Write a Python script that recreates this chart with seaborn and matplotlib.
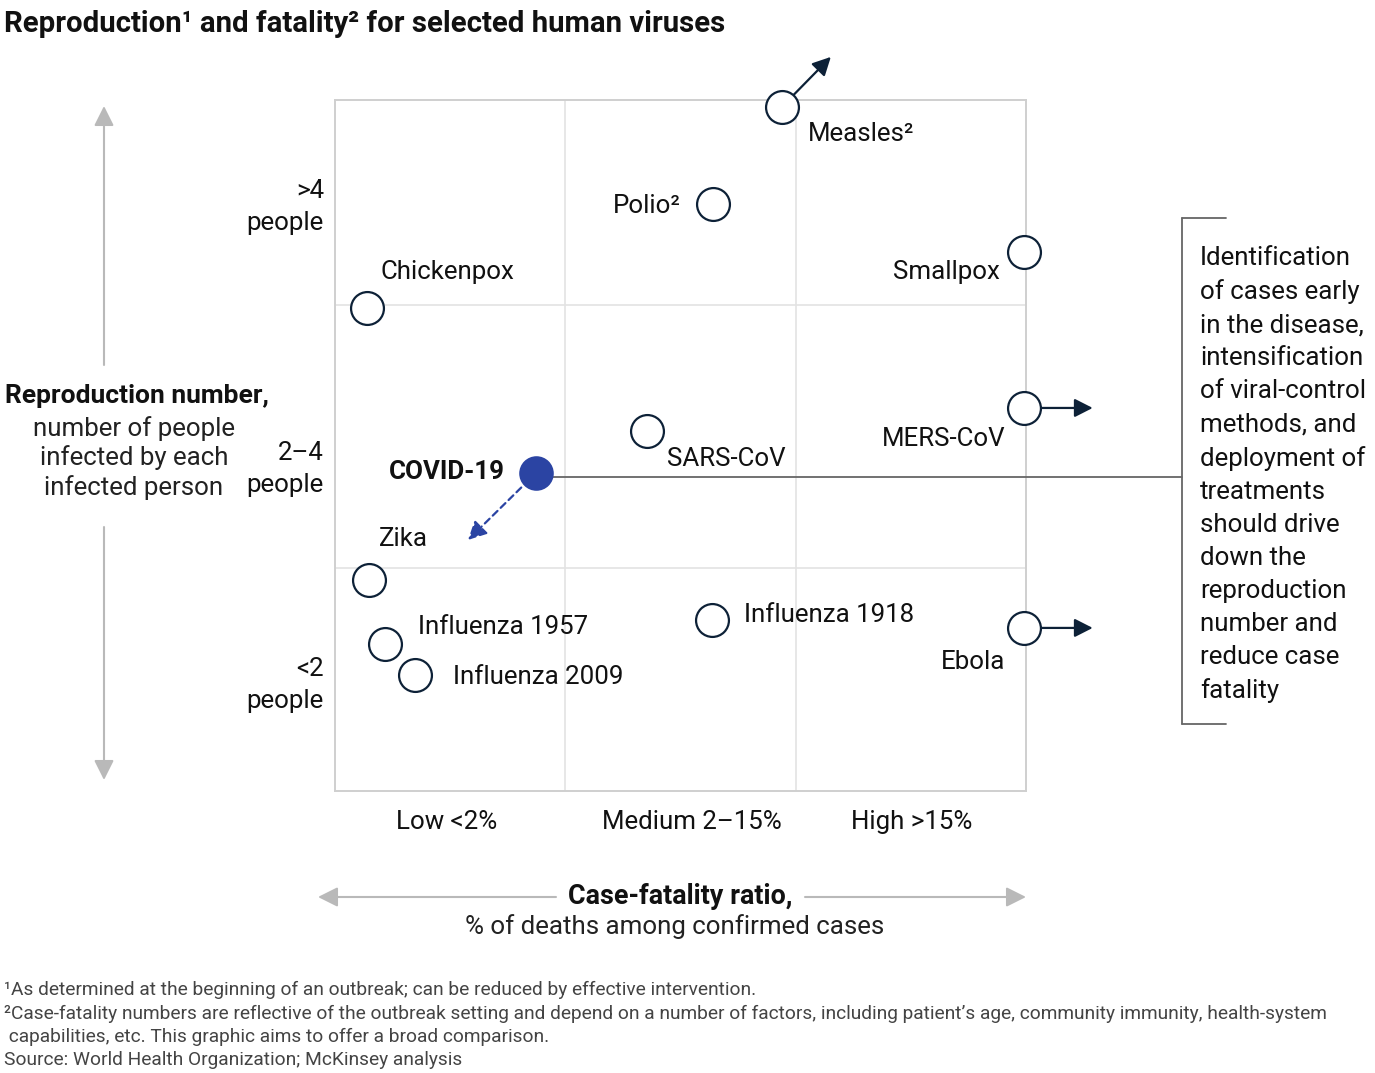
import matplotlib
matplotlib.use("Agg")
import matplotlib.pyplot as plt
import matplotlib.transforms as mtransforms
from matplotlib.lines import Line2D
import seaborn as sns
import pandas as pd

# ---------------- data ----------------
viruses = ["Measles²", "Polio²", "Smallpox", "Chickenpox", "MERS-CoV", "SARS-CoV",
           "COVID-19", "Zika", "Influenza 1957", "Influenza 2009", "Influenza 1918", "Ebola"]
# case-fatality position (0-1 low, 1-2 medium, 2-3 high)
fatality = [1.94, 1.64, 2.99, 0.14, 2.99, 1.355, 0.873, 0.148, 0.217, 0.347, 1.637, 2.99]
# reproduction position (0-0.97 <2, 0.97-2.11 2-4, >2.11 >4)
reproduction = [2.97, 2.548, 2.34, 2.097, 1.663, 1.563, 1.381, 0.916, 0.638, 0.504, 0.742, 0.708]
x_tick_labels = ["Low <2%", "Medium 2–15%", "High >15%"]
y_tick_labels = [">4\npeople", "2–4\npeople", "<2\npeople"]
x_bounds = [1.0, 2.0]
y_bounds = [0.968, 2.11]

# label styles: (dx px, dy px (up), ha)
label_style = {
    "Measles²": (26, -27, "left"),
    "Polio²": (-32, -2, "right"),
    "Smallpox": (-24, -20, "right"),
    "Chickenpox": (13, 36, "left"),
    "MERS-CoV": (-18, -31, "right"),
    "SARS-CoV": (20, -28, "left"),
    "COVID-19": (-31, 1, "right"),
    "Zika": (10, 41, "left"),
    "Influenza 1957": (33, 17, "left"),
    "Influenza 2009": (38, -2, "left"),
    "Influenza 1918": (32, 5, "left"),
    "Ebola": (-18, -34, "right"),
}
# outward arrows: (dx px, dy px up, dashed)
arrow_style = {
    "Measles²": (49, 50, False),
    "MERS-CoV": (69, 0, False),
    "Ebola": (69, 0, False),
    "COVID-19": (-68, -67, True),
}

df = pd.DataFrame({"virus": viruses, "fatality": fatality, "reproduction": reproduction})
df["kind"] = ["covid" if v == "COVID-19" else "other" for v in viruses]

sns.set_theme(style="white")
plt.rcParams["font.family"] = ["Roboto", "DejaVu Sans"]

W, H = 1375, 1073
fig = plt.figure(figsize=(W / 100, H / 100), dpi=100)
ax = fig.add_axes([335 / W, 1 - 791 / H, 691 / W, 691 / H])

NAVY = "#0d2137"
BLUE = "#2b44a3"
GRID = "#e3e3e3"
SPINE = "#cfcfcf"
FS = 18.6

# grid
for xb in x_bounds:
    ax.axvline(xb, color=GRID, lw=1.2, zorder=0)
for yb in y_bounds:
    ax.axhline(yb, color=GRID, lw=1.2, zorder=0)

others = df[df.kind == "other"]
covid = df[df.kind == "covid"]
sns.scatterplot(data=others, x="fatality", y="reproduction", ax=ax, s=560,
                facecolor="white", edgecolor=NAVY, linewidth=1.6, clip_on=False, zorder=5,
                legend=False)
sns.scatterplot(data=covid, x="fatality", y="reproduction", ax=ax, s=620,
                color=BLUE, edgecolor=BLUE, linewidth=0, clip_on=False, zorder=6, legend=False)

ax.set_xlim(0, 3)
ax.set_ylim(0, 3)
ax.set_xticks([])
ax.set_yticks([])
ax.set_xlabel("")
ax.set_ylabel("")
for sp in ax.spines.values():
    sp.set_color(SPINE)
    sp.set_linewidth(1.4)

# labels
for v, x, y in zip(viruses, fatality, reproduction):
    dx, dy, ha = label_style[v]
    bold = v == "COVID-19"
    ax.annotate(v, (x, y), xytext=(dx, dy), textcoords="offset pixels",
                ha=ha, va="center", fontsize=FS, color="#111111",
                fontweight="bold" if bold else "normal", zorder=7, annotation_clip=False)

# arrows
for v, (dx, dy, dashed) in arrow_style.items():
    i = viruses.index(v)
    x, y = fatality[i], reproduction[i]
    tr = mtransforms.offset_copy(ax.transData, fig=fig, x=dx, y=dy, units="dots")
    col = BLUE if dashed else NAVY
    ax.annotate("", xy=(x, y), xycoords=tr, xytext=(x, y), textcoords="data",
                arrowprops=dict(arrowstyle="-|>,head_length=0.55,head_width=0.28",
                                mutation_scale=20, color=col, lw=1.6,
                                linestyle=(0, (3, 2)) if dashed else "-",
                                shrinkA=15 if dashed else 11.5, shrinkB=0),
                annotation_clip=False, zorder=4)

# COVID connector line to bracket
ci = viruses.index("COVID-19")
bracket_x = (1182 - 335) / 691 * 3
ax.plot([fatality[ci], bracket_x], [reproduction[ci] - 0.017] * 2, color="#666666",
        lw=1.3, clip_on=False, zorder=3)

def fx(px):
    return px / W

def fy(py):
    return 1 - py / H

# bracket
for xs, ys in [([1182, 1182], [218, 724]), ([1182, 1226], [218, 218]), ([1182, 1226], [724, 724])]:
    fig.add_artist(Line2D([fx(a) for a in xs], [fy(b) for b in ys], color="#666666", lw=1.3))

note = ("Identification\nof cases early\nin the disease,\nintensification\nof viral-control\n"
        "methods, and\ndeployment of\ntreatments\nshould drive\ndown the\nreproduction\n"
        "number and\nreduce case\nfatality")
fig.text(fx(1200), fy(246), note, ha="left", va="top", fontsize=FS, color="#111111",
         linespacing=1.475)

# title
fig.text(fx(4), fy(24), "Reproduction¹ and fatality² for selected human viruses",
         ha="left", va="center", fontsize=21.2, fontweight="bold", color="#111111")

# x category labels
for lbl, cx in zip(x_tick_labels, [447, 692, 912]):
    fig.text(fx(cx), fy(822), lbl, ha="center", va="center", fontsize=FS, color="#111111")

# y category labels
for lbl, cy in zip(y_tick_labels, [207, 469, 685]):
    fig.text(fx(324), fy(cy), lbl, ha="right", va="center", fontsize=FS, color="#111111",
             linespacing=1.38)

# y axis title
fig.text(fx(137), fy(396), "Reproduction number,", ha="center", va="center", fontsize=19,
         fontweight="bold", color="#111111")
fig.text(fx(134), fy(458), "number of people\ninfected by each\ninfected person", ha="center",
         va="center", fontsize=FS, color="#222222", linespacing=1.24)

# x axis title
fig.text(fx(680), fy(896), "Case-fatality ratio,", ha="center", va="center", fontsize=19.4,
         fontweight="bold", color="#111111")
fig.text(fx(675), fy(927), "% of deaths among confirmed cases", ha="center", va="center",
         fontsize=FS, color="#222222")

# gray axis arrows
ARR = "#b9b9b9"
def garrow(x0, y0, x1, y1):
    fig.add_artist(matplotlib.patches.FancyArrowPatch(
        (fx(x0), fy(y0)), (fx(x1), fy(y1)), transform=fig.transFigure,
        arrowstyle="-|>,head_length=0.6,head_width=0.3", mutation_scale=20,
        color=ARR, lw=1.5, shrinkA=0, shrinkB=0))

garrow(104, 365, 104, 106)
garrow(104, 527, 104, 780)
garrow(556, 897, 318, 897)
garrow(805, 897, 1026, 897)

# footnotes
foot = [
    (990, "¹As determined at the beginning of an outbreak; can be reduced by effective intervention."),
    (1014, "²Case-fatality numbers are reflective of the outbreak setting and depend on a number of factors, including patient’s age, community immunity, health-system"),
    (1037, " capabilities, etc. This graphic aims to offer a broad comparison."),
    (1060, "Source: World Health Organization; McKinsey analysis"),
]
for py, t in foot:
    fig.text(fx(4), fy(py), t, ha="left", va="center", fontsize=13.8, color="#444444")

fig.savefig("out.png", dpi=100)
